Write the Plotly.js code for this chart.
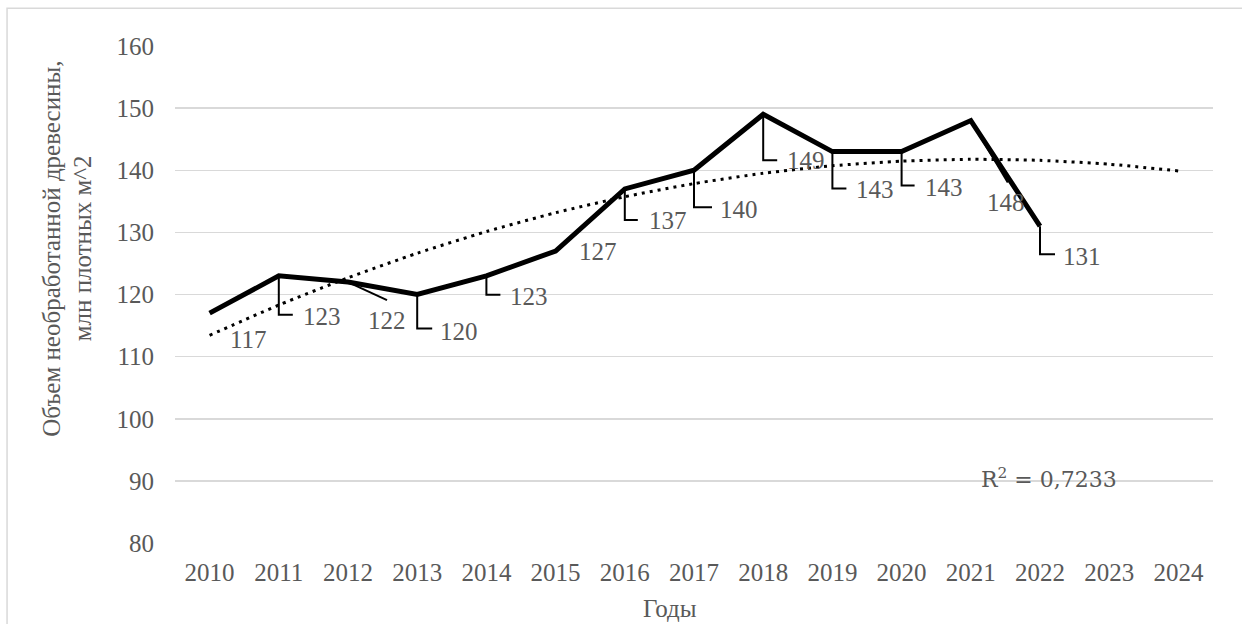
<!DOCTYPE html>
<html>
<head>
<meta charset="utf-8">
<script src="https://cdn.plot.ly/plotly-3.0.1.min.js"></script>
<style>
  html, body { margin: 0; padding: 0; background: #ffffff; }
  #chart { width: 1242px; height: 624px; }
</style>
</head>
<body>
<div id="chart"></div>
<script>
// ---- data ----
const years = ['2010','2011','2012','2013','2014','2015','2016','2017','2018','2019','2020','2021','2022','2023','2024'];
const volumes = [117, 123, 122, 120, 123, 127, 137, 140, 149, 143, 143, 148, 131];
const yTickValues = [80, 90, 100, 110, 120, 130, 140, 150, 160];
const yTitleLine1 = 'Объем необработанной древесины,';
const yTitleLine2 = 'млн плотных м^2';
const xTitleText = 'Годы';
const rSquaredText = 'R<sup>2</sup> = 0,7233';

// ---- label placement (styling only: pixel offsets from each point) ----
const labelDx = [39, 43, 39, 42, 43, 42, 43, 45, 43, 43, 42, 35, 42];
const labelDy = [26, 41, 38, 37, 21, 0, 32, 39, 46, 38, 36, 82, 30];
const leaderPaths = [
  null,
  'M0,0 V-39 H14',
  'M0,0 L39,-18',
  'M0,0 V-34 H15',
  'M0,0 V-19 H14',
  null,
  'M0,0 V-31 H13',
  'M0,0 V-37 H18',
  'M0,0 V-46 H14',
  'M0,0 V-37 H14',
  'M0,0 V-34 H13',
  'M0,0 L37,-62',
  'M0,0 V-28 H15'
];

// x positions = category index
const xIdx = years.map((_, i) => i);

// ---- polynomial (order 2) trendline, least squares on the data ----
function quadFit(ys) {
  const n = ys.length;
  const S = [0,0,0,0,0], T = [0,0,0];
  for (let i = 0; i < n; i++) {
    const x = i;
    S[0] += 1; S[1] += x; S[2] += x*x; S[3] += x*x*x; S[4] += x*x*x*x;
    T[0] += ys[i]; T[1] += x*ys[i]; T[2] += x*x*ys[i];
  }
  const A = [[S[0],S[1],S[2],T[0]],[S[1],S[2],S[3],T[1]],[S[2],S[3],S[4],T[2]]];
  for (let c = 0; c < 3; c++) {
    for (let r = c+1; r < 3; r++) {
      const f = A[r][c] / A[c][c];
      for (let k = c; k < 4; k++) A[r][k] -= f*A[c][k];
    }
  }
  const coef = [0,0,0];
  for (let r = 2; r >= 0; r--) {
    let s = A[r][3];
    for (let k = r+1; k < 3; k++) s -= A[r][k]*coef[k];
    coef[r] = s / A[r][r];
  }
  return coef;
}
const coef = quadFit(volumes);
const trendValues = xIdx.map(i => coef[0] + coef[1]*i + coef[2]*i*i);

const FONT = 'Liberation Serif';
const GREY = '#595959';
const FS = 25;

const traces = [
  {
    x: xIdx, y: trendValues, type: 'scatter', mode: 'lines',
    line: {color: '#000000', width: 3, dash: '3px,5px', shape: 'spline', smoothing: 0.6},
    hoverinfo: 'skip', showlegend: false
  },
  {
    x: xIdx.slice(0, volumes.length), y: volumes, type: 'scatter', mode: 'lines',
    line: {color: '#000000', width: 5},
    hoverinfo: 'skip', showlegend: false
  }
];

const annotations = volumes.map((v, i) => ({
  x: xIdx[i], y: v, xref: 'x', yref: 'y',
  xshift: labelDx[i], yshift: -labelDy[i],
  text: String(v), showarrow: false,
  xanchor: 'center', yanchor: 'middle',
  font: {family: FONT, size: FS, color: GREY}
}));
annotations.push({
  x: -0.1190, y: 0.593, xref: 'paper', yref: 'paper', textangle: -90,
  text: yTitleLine1, showarrow: false, xanchor: 'center', yanchor: 'middle',
  font: {family: FONT, size: FS, color: GREY}
});
annotations.push({
  x: -0.0896, y: 0.593, xref: 'paper', yref: 'paper', textangle: -90,
  text: yTitleLine2, showarrow: false, xanchor: 'center', yanchor: 'middle',
  font: {family: FONT, size: FS, color: GREY}
});
annotations.push({
  x: 0.477, y: -0.131, xref: 'paper', yref: 'paper',
  text: xTitleText, showarrow: false, xanchor: 'center', yanchor: 'middle',
  font: {family: FONT, size: FS, color: GREY}
});
annotations.push({
  x: 0.842, y: 0.130, xref: 'paper', yref: 'paper',
  text: rSquaredText, showarrow: false, xanchor: 'center', yanchor: 'middle',
  font: {family: 'DejaVu Serif', size: 22, color: GREY}
});

const shapes = [];
volumes.forEach((v, i) => {
  if (!leaderPaths[i]) return;
  shapes.push({
    type: 'path', xref: 'x', yref: 'y',
    xsizemode: 'pixel', ysizemode: 'pixel',
    xanchor: xIdx[i], yanchor: v,
    path: leaderPaths[i],
    line: {color: '#000000', width: 2}
  });
});
// outer chart-area border (top and left visible)
shapes.push({
  type: 'rect', xref: 'paper', yref: 'paper',
  x0: -0.1618, x1: 1.5, y0: -1, y1: 1.0759,
  line: {color: '#d9d9d9', width: 1.5}, layer: 'below'
});

const layout = {
  width: 1242, height: 624,
  margin: {l: 175, r: 29, t: 46, b: 81},
  paper_bgcolor: '#ffffff', plot_bgcolor: '#ffffff',
  showlegend: false,
  font: {family: FONT, size: FS, color: GREY},
  xaxis: {
    type: 'linear', range: [-0.5, years.length - 0.5],
    tickvals: xIdx, ticktext: years,
    showgrid: false, zeroline: false, showline: false, ticks: '',
    tickfont: {family: FONT, size: FS, color: GREY},
    ticklabelstandoff: 12
  },
  yaxis: {
    range: [80, 160], tickvals: yTickValues,
    showgrid: true, gridcolor: '#d9d9d9', gridwidth: 1.5,
    zeroline: false, showline: false, ticks: '',
    tickfont: {family: FONT, size: FS, color: GREY},
    ticklabelstandoff: 20
  },
  annotations: annotations,
  shapes: shapes
};

Plotly.newPlot('chart', traces, layout, {staticPlot: true, displayModeBar: false});
</script>
</body>
</html>
